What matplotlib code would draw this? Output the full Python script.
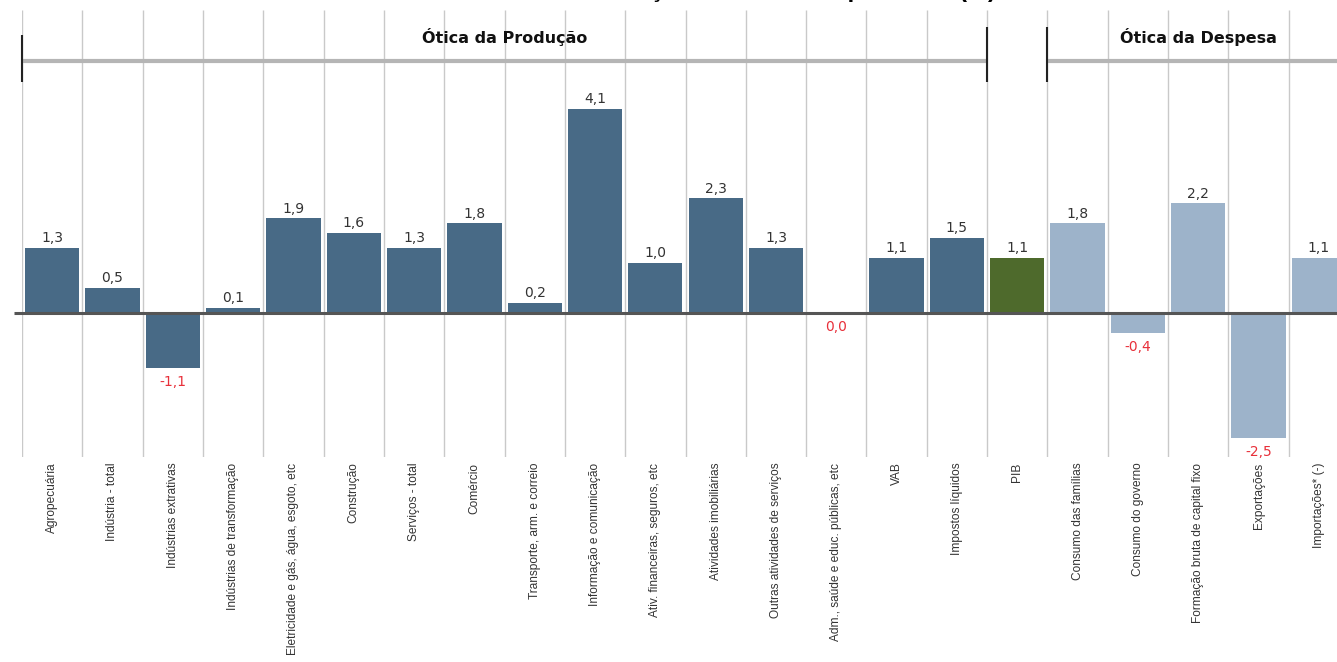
import matplotlib.pyplot as plt

categorias = [
    "Agropecuária", "Indústria - total", "Indústrias extrativas",
    "Indústrias de transformação", "Eletricidade e gás, água, esgoto, etc",
    "Construção", "Serviços - total", "Comércio", "Transporte, arm. e correio",
    "Informação e comunicação", "Ativ. financeiras, seguros, etc",
    "Atividades imobiliárias", "Outras atividades de serviços",
    "Adm., saúde e educ. públicas, etc", "VAB", "Impostos líquidos", "PIB",
    "Consumo das famílias", "Consumo do governo",
    "Formação bruta de capital fixo", "Exportações", "Importações* (-)",
]
valores = [1.3, 0.5, -1.1, 0.1, 1.9, 1.6, 1.3, 1.8, 0.2, 4.1, 1.0, 2.3,
           1.3, 0.0, 1.1, 1.5, 1.1, 1.8, -0.4, 2.2, -2.5, 1.1]
grupos = ["prod"] * 16 + ["pib"] + ["desp"] * 5

cores = {"prod": "#486a86", "pib": "#4e6a2c", "desp": "#9db3ca"}
texto_font = ["Liberation Sans", "DejaVu Sans"]

fig = plt.figure(figsize=(13.37, 6.62), dpi=100)
ax = fig.add_axes([22 / 1337, 205 / 662, 1327 / 1337, 447 / 662])
ax.set_xlim(-0.5, 21.5)
ax.set_ylim(-2.89, 6.08)

x = list(range(len(categorias)))

# grade vertical entre as colunas
ax.vlines([i - 0.5 for i in range(len(categorias) + 1)], -2.89, 6.08,
          color="#c9c9c9", lw=1, zorder=0)

ax.bar(x, valores, width=0.9, color=[cores[g] for g in grupos], zorder=2)
ax.hlines(0, -0.63, 21.6, color="#555555", lw=2.2, zorder=3, clip_on=False)

for xi, v in zip(x, valores):
    rotulo = f"{v:.1f}".replace(".", ",")
    if v > 0:
        ax.annotate(rotulo, (xi, v), xytext=(0, 2), textcoords="offset points",
                    ha="center", va="bottom", fontsize=10, color="#333333",
                    family="DejaVu Sans")
    else:
        ax.annotate(rotulo, (xi, v), xytext=(0, -5), textcoords="offset points",
                    ha="center", va="top", fontsize=10, color="#e8303a",
                    family="DejaVu Sans")

# cabeçalhos das óticas
ax.hlines(5.06, -0.5, 15.5, color="#b5b5b5", lw=3, zorder=1)
ax.hlines(5.06, 16.5, 21.6, color="#b5b5b5", lw=3, zorder=1, clip_on=False)
ax.vlines(-0.5, 4.64, 5.58, color="#222222", lw=1.5, zorder=4, clip_on=False)
ax.vlines([15.5, 16.5], 4.64, 5.74, color="#222222", lw=1.5, zorder=4)
ax.text(7.5, 5.54, "Ótica da Produção", ha="center", va="center",
        fontsize=11.5, fontweight="bold", family="DejaVu Sans", zorder=5,
        color="#111111")
ax.text(19.0, 5.54, "Ótica da Despesa", ha="center", va="center",
        fontsize=11.5, fontweight="bold", family="DejaVu Sans", zorder=5,
        color="#111111")

# título cortado no topo, como na imagem original
fig.text(0.745, 1.0 + 3 / 662, "Taxa de variação do PIB e componentes (%)",
         ha="right", va="baseline", fontsize=17, fontweight="bold",
         family=texto_font)

ax.set_xticks(x)
ax.set_xticklabels(categorias, rotation=90, va="top", ha="center",
                   fontsize=8.6, color="#333333", family=texto_font)
ax.tick_params(axis="x", length=0, pad=4)
ax.set_yticks([])
for s in ax.spines.values():
    s.set_visible(False)

fig.savefig("out.png", dpi=100, facecolor="white")
